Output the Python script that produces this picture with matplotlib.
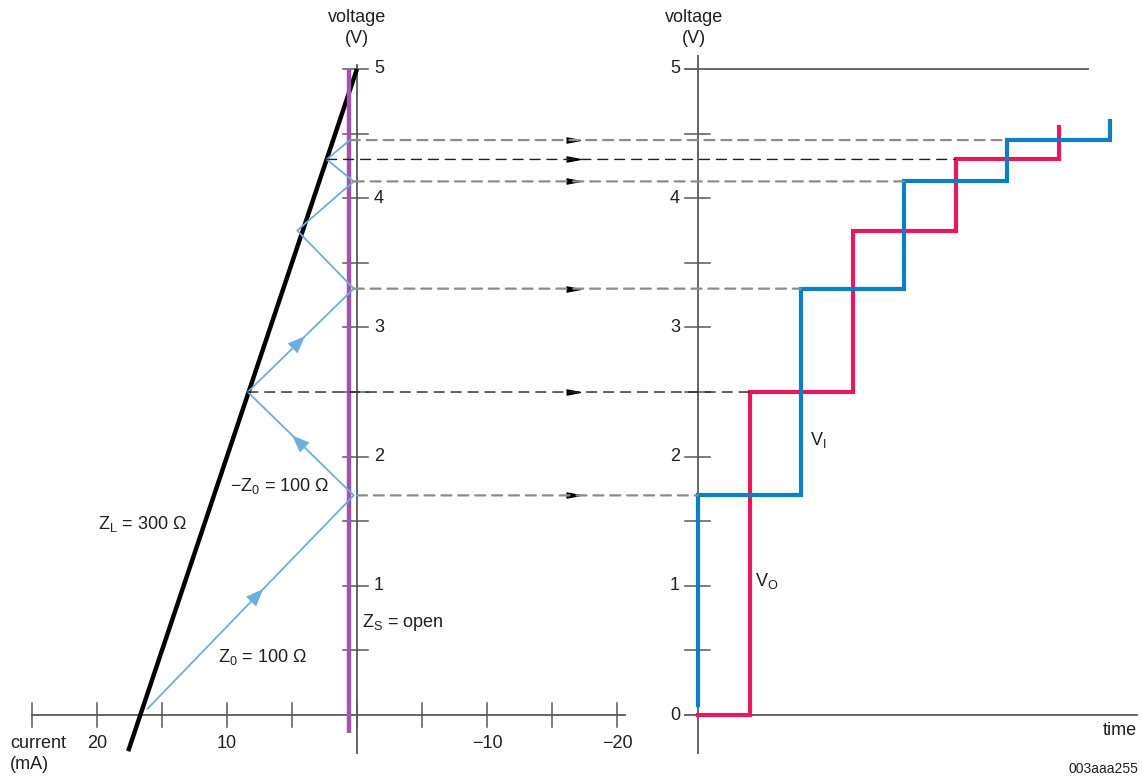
import matplotlib
matplotlib.use("Agg")
import matplotlib.pyplot as plt
from matplotlib.patches import ConnectionPatch

plt.rcParams["font.family"] = ["Liberation Sans", "DejaVu Sans"]
plt.rcParams["font.size"] = 13

# ---- data ----
# bounce path on the current/voltage plane (mA, V)
path_i = [16.1, 0.25, 8.4, 0.25, 4.6, 0.25, 2.33, 0.55]
path_v = [0.05, 1.70, 2.50, 3.30, 3.75, 4.13, 4.30, 4.45]
# load line Z_L = 300 ohm
load_i = [17.6, 0.0]
load_v = [-0.28, 5.0]
# source line (open)
src_i = [0.6, 0.6]
src_v = [-0.14, 5.0]

# step responses vs time (delay units)
vi_t = [0, 2, 4, 6, 8]
vi_levels = [0.08, 1.70, 3.30, 4.13, 4.45, 4.60]
vo_t = [1, 3, 5, 7]
vo_levels = [0.0, 2.50, 3.75, 4.30, 4.55]

# projection lines: start current, voltage, end time, which signal
proj_i = [0.0, 8.4, 0.25, 0.25, 2.33, 0.55]
proj_v = [1.70, 2.50, 3.30, 4.13, 4.30, 4.45]
proj_t = [0, 1, 2, 4, 5, 6]
proj_kind = ["vi", "vo", "vi", "vi", "vo", "vi"]

cur_ticks = [25, 20, 15, 10, 5, 0, -5, -10, -15, -20]
cur_labels = {20: "20", 10: "10", -10: "\u221210", -20: "\u221220"}
volt_ticks = [0.5, 1, 1.5, 2, 2.5, 3, 3.5, 4, 4.5, 5]

AX = "#58595b"
TXT = "#231f20"
LBLUE = "#6aaee2"
BLUE = "#0a7fc6"
RED = "#e8195a"
PURPLE = "#a055a6"

W, H = 1142, 778
fig = plt.figure(figsize=(W / 100, H / 100), dpi=100)
axL = fig.add_axes([20 / W, 18 / H, 620 / W, 710 / H])
axR = fig.add_axes([670 / W, 18 / H, 472 / W, 710 / H])

axL.set_xlim(25.92, -21.77)
axR.set_xlim(-0.544, 8.62)
for ax in (axL, axR):
    ax.set_ylim(-0.348, 5.147)
    ax.axis("off")

# ---- left panel axes ----
axL.plot([25.0, -20.6], [0, 0], color=AX, lw=1.3)
axL.plot([0, 0], [-0.29, 5.03], color=AX, lw=1.3)
for c in cur_ticks:
    axL.plot([c, c], [-0.09, 0.09], color=AX, lw=1.1)
    if c in cur_labels:
        axL.text(c, -0.22, cur_labels[c], ha="center", va="center", color=TXT)
for v in volt_ticks:
    axL.plot([1.1, -0.85], [v, v], color=AX, lw=1.1)
    if v == int(v):
        axL.text(-1.3, v, str(int(v)), ha="left", va="center", color=TXT)

axL.plot(load_i, load_v, color="black", lw=3.2, solid_capstyle="butt")
axL.plot(src_i, src_v, color=PURPLE, lw=3.2, solid_capstyle="butt")
axL.plot(path_i, path_v, color=LBLUE, lw=1.3)

# arrowheads on the first three segments
for k, f in zip(range(3), [0.55, 0.56, 0.52]):
    i0, v0 = path_i[k], path_v[k]
    i1, v1 = path_i[k + 1], path_v[k + 1]
    a = (i0 + (i1 - i0) * f, v0 + (v1 - v0) * f)
    b = (i0 + (i1 - i0) * (f + 0.02), v0 + (v1 - v0) * (f + 0.02))
    axL.annotate("", xy=b, xytext=a,
                 arrowprops=dict(arrowstyle="-|>,head_length=0.95,head_width=0.38",
                                 color=LBLUE, lw=0.1))

# ---- right panel axes ----
axR.plot([0, 0], [-0.29, 5.1], color=AX, lw=1.3)
axR.plot([-0.25, 8.52], [0, 0], color=AX, lw=1.3)
axR.plot([-0.25, 7.57], [5, 5], color=AX, lw=1.3)
for v in volt_ticks[:-1]:
    axR.plot([-0.25, 0.23], [v, v], color=AX, lw=1.1)
for v in [0, 1, 2, 3, 4, 5]:
    axR.text(-0.35, v, str(v), ha="right", va="center", color=TXT)

# step responses
vi_x, vi_y = [vi_t[0]], [vi_levels[0]]
for k, t in enumerate(vi_t):
    vi_x += [t, t]
    vi_y += [vi_levels[k], vi_levels[k + 1]]
    if k + 1 < len(vi_t):
        vi_x.append(vi_t[k + 1])
        vi_y.append(vi_levels[k + 1])
vo_x, vo_y = [0], [vo_levels[0]]
for k, t in enumerate(vo_t):
    vo_x += [t, t]
    vo_y += [vo_levels[k], vo_levels[k + 1]]
    if k + 1 < len(vo_t):
        vo_x.append(vo_t[k + 1])
        vo_y.append(vo_levels[k + 1])
axR.plot(vo_x, vo_y, color=RED, lw=3.0, solid_joinstyle="miter")
axR.plot(vi_x, vi_y, color=BLUE, lw=3.0, solid_joinstyle="miter")

# projection dashed lines
for i0, v, t, kind in zip(proj_i, proj_v, proj_t, proj_kind):
    if kind == "vi":
        col, lw, dash = "#8c8c8c", 1.6, (0, (4.5, 3.1))
    else:
        col, lw, dash = "#231f20", 1.0, (0, (7.2, 5.0))
    con = ConnectionPatch(xyA=(i0, v), coordsA=axL.transData,
                          xyB=(t, v), coordsB=axR.transData,
                          color=col, lw=lw, linestyle=dash, zorder=1)
    fig.add_artist(con)
    axL.plot([-16.6], [v], marker=[(-1, -0.38), (1, 0), (-1, 0.38)],
             color="black", markersize=10, linestyle="none", clip_on=False)

# ---- annotations ----
axL.text(0, 5.317, "voltage\n(V)", ha="center", va="center", linespacing=1.35, color=TXT)
axR.text(-0.08, 5.317, "voltage\n(V)", ha="center", va="center", linespacing=1.35, color=TXT)
axL.text(26.7, -0.30, "current\n(mA)", ha="left", va="center", linespacing=1.35, color=TXT)
axR.text(8.52, -0.116, "time", ha="right", va="center", color=TXT)
axL.text(19.9, 1.48, r"Z$_\mathregular{L}$ = 300 Ω", ha="left", va="center", color=TXT)
axL.text(9.77, 1.77, "\u2212" + r"Z$_\mathregular{0}$ = 100 Ω", ha="left", va="center", color=TXT)
axL.text(10.7, 0.45, r"Z$_\mathregular{0}$ = 100 Ω", ha="left", va="center", color=TXT)
axL.text(-0.4, 0.72, r"Z$_\mathregular{S}$ = open", ha="left", va="center", color=TXT)
axR.text(2.17, 2.13, r"V$_\mathregular{I}$", ha="left", va="center", color=TXT)
axR.text(1.1, 1.04, r"V$_\mathregular{O}$", ha="left", va="center", color=TXT)
fig.text(1138 / W, 2 / H, "003aaa255", ha="right", va="bottom", fontsize=10, color=TXT)

fig.savefig("out.png", dpi=100, facecolor="white")
